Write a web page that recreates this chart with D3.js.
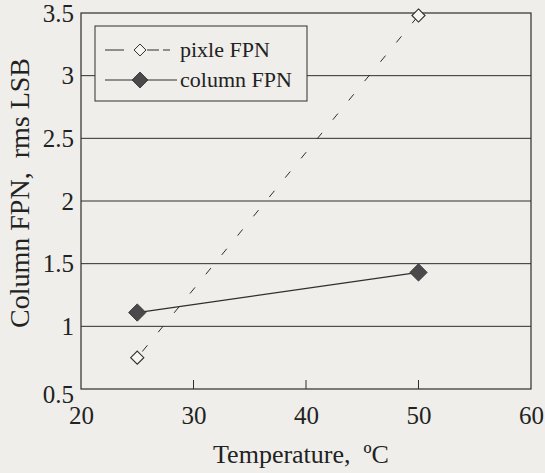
<!DOCTYPE html>
<html>
<head>
<meta charset="utf-8">
<script src="https://cdn.jsdelivr.net/npm/d3@7"></script>
<style>
  body { margin: 0; background: #efeeea; }
  svg { display: block; }
  svg text { font-family: "Liberation Serif", "DejaVu Serif", serif !important; fill: #222; }
</style>
</head>
<body>
<svg id="chart"></svg>
<script>
// data
const temps = [25, 50];
const pixleFPN = [0.75, 3.48];
const columnFPN = [1.11, 1.43];
const xTicks = [20, 30, 40, 50, 60];
const yTicks = [0.5, 1, 1.5, 2, 2.5, 3, 3.5];
const seriesNames = ["pixle FPN", "column FPN"];

const width = 545, height = 473;
const margin = {top: 13, right: 14, bottom: 84, left: 81};
const ink = "#2e2e2e";

const svg = d3.select("#chart")
    .attr("width", width)
    .attr("height", height);

const x = d3.scaleLinear()
    .domain([20, 60])
    .range([margin.left, width - margin.right]);
const y = d3.scaleLinear()
    .domain([0.5, 3.5])
    .range([height - margin.bottom, margin.top]);

// gridlines
svg.append("g")
  .selectAll("line")
  .data(yTicks.filter(d => d > 0.5 && d < 3.5))
  .enter()
  .append("line")
    .attr("x1", x(20)).attr("x2", x(60))
    .attr("y1", d => y(d)).attr("y2", d => y(d))
    .attr("stroke", ink)
    .attr("stroke-width", 1);

// frame
svg.append("rect")
    .attr("x", x(20)).attr("y", y(3.5))
    .attr("width", x(60) - x(20))
    .attr("height", y(0.5) - y(3.5))
    .attr("fill", "none")
    .attr("stroke", ink)
    .attr("stroke-width", 1.2);

// inner x ticks
svg.append("g")
  .selectAll("line")
  .data(xTicks.slice(1, -1))
  .enter()
  .append("line")
    .attr("x1", d => x(d)).attr("x2", d => x(d))
    .attr("y1", y(0.5)).attr("y2", y(0.5) - 9)
    .attr("stroke", ink);

// axes (labels only)
const xAxis = svg.append("g")
    .attr("transform", "translate(0," + y(0.5) + ")")
    .call(d3.axisBottom(x).tickValues(xTicks).tickFormat(d3.format("d")).tickSize(0).tickPadding(17));
const yAxis = svg.append("g")
    .attr("transform", "translate(" + x(20) + ",0)")
    .call(d3.axisLeft(y).tickValues(yTicks).tickFormat(d => d).tickSize(0).tickPadding(7));
[xAxis, yAxis].forEach(a => {
  a.select(".domain").remove();
  a.selectAll("text").style("font-size", "25px");
});
yAxis.selectAll("text").filter(d => d === 0.5).attr("dy", "0.55em");

// axis titles
svg.append("text")
    .attr("x", 301).attr("y", 463)
    .attr("text-anchor", "middle")
    .attr("xml:space", "preserve")
    .style("font-size", "26px")
    .text("Temperature,  \u00baC");
svg.append("text")
    .attr("transform", "translate(29,193) rotate(-90)")
    .attr("text-anchor", "middle")
    .attr("xml:space", "preserve")
    .style("font-size", "28px")
    .text("Column FPN,  rms LSB");

const line = d3.line()
    .x(d => x(d[0]))
    .y(d => y(d[1]));

const pixlePts = temps.map((t, i) => [t, pixleFPN[i]]);
const columnPts = temps.map((t, i) => [t, columnFPN[i]]);

const diamond = d3.symbol().type(d3.symbolDiamond2);

// pixle FPN: dashed line, hollow diamonds
svg.append("path")
    .datum(pixlePts)
    .attr("d", line)
    .attr("fill", "none")
    .attr("stroke", ink)
    .attr("stroke-width", 1)
    .attr("stroke-dasharray", "8,17")
    .attr("stroke-dashoffset", -8);
svg.append("g")
  .selectAll("path")
  .data(pixlePts)
  .enter()
  .append("path")
    .attr("d", diamond.size(110))
    .attr("transform", d => "translate(" + x(d[0]) + "," + y(d[1]) + ")")
    .attr("fill", "#f7f6f2")
    .attr("stroke", ink)
    .attr("stroke-width", 1.1);

// column FPN: solid line, filled diamonds
svg.append("path")
    .datum(columnPts)
    .attr("d", line)
    .attr("fill", "none")
    .attr("stroke", ink)
    .attr("stroke-width", 1.2);
svg.append("g")
  .selectAll("path")
  .data(columnPts)
  .enter()
  .append("path")
    .attr("d", diamond.size(190))
    .attr("transform", d => "translate(" + x(d[0]) + "," + y(d[1]) + ")")
    .attr("fill", "#4a4a4a")
    .attr("stroke", "#3a3a3a");

// legend
const legend = svg.append("g");
legend.append("rect")
    .attr("x", 95).attr("y", 26)
    .attr("width", 212).attr("height", 75)
    .attr("fill", "#efeeea")
    .attr("stroke", ink)
    .attr("stroke-width", 1);
legend.append("line")
    .attr("x1", 105).attr("x2", 171).attr("y1", 50).attr("y2", 50)
    .attr("stroke", ink)
    .attr("stroke-dasharray", "19,23,12,4,7,100");
legend.append("path")
    .attr("d", diamond.size(90))
    .attr("transform", "translate(140,50)")
    .attr("fill", "#f7f6f2")
    .attr("stroke", ink);
legend.append("line")
    .attr("x1", 105).attr("x2", 177).attr("y1", 80).attr("y2", 80)
    .attr("stroke", ink)
    .attr("stroke-width", 1.2);
legend.append("path")
    .attr("d", diamond.size(160))
    .attr("transform", "translate(140,80)")
    .attr("fill", "#4a4a4a")
    .attr("stroke", "#3a3a3a");
legend.selectAll("text.lab")
  .data(seriesNames)
  .enter()
  .append("text")
    .attr("class", "lab")
    .attr("x", 180)
    .attr("y", (d, i) => 57 + i * 30)
    .style("font-size", "22px")
    .text(d => d);
</script>
</body>
</html>
